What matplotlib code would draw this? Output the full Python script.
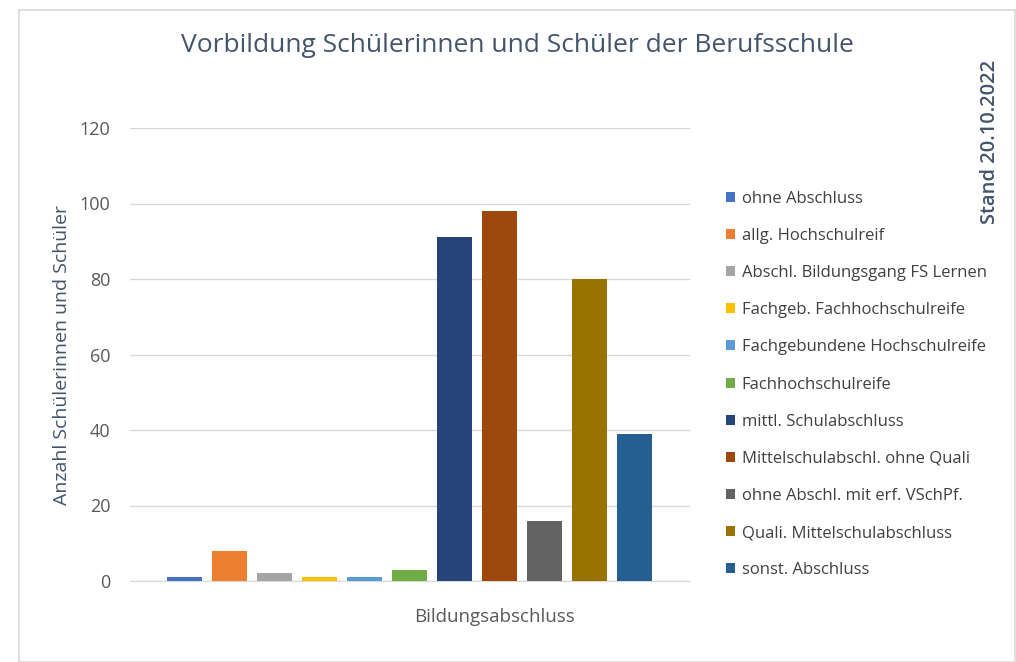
import matplotlib
matplotlib.use("Agg")
import matplotlib.pyplot as plt
from matplotlib.patches import Rectangle

plt.rcParams['font.family'] = ['Open Sans', 'DejaVu Sans']

# Daten
kategorien = ['ohne Abschluss', 'allg. Hochschulreif', 'Abschl. Bildungsgang FS Lernen',
              'Fachgeb. Fachhochschulreife', 'Fachgebundene Hochschulreife', 'Fachhochschulreife',
              'mittl. Schulabschluss', 'Mittelschulabschl. ohne Quali', 'ohne Abschl. mit erf. VSchPf.',
              'Quali. Mittelschulabschluss', 'sonst. Abschluss']
werte = [1, 8, 2, 1, 1, 3, 91, 98, 16, 80, 39]
farben = ['#4472C4', '#ED7D31', '#A5A5A5', '#FFC000', '#5B9BD5', '#70AD47',
          '#264478', '#9E480E', '#636363', '#997300', '#255E91']
y_ticks = [0, 20, 40, 60, 80, 100, 120]

fig = plt.figure(figsize=(10.16, 6.62), dpi=100)
W, H = 1016, 662
ax = fig.add_axes([130 / W, (H - 581) / H, 560 / W, 453 / H])

for i, (k, v, c) in enumerate(zip(kategorien, werte, farben)):
    ax.bar(i, v, width=0.78, color=c, label=k, zorder=3)

ax.set_xlim(-1.21, 11.23)
ax.set_ylim(0, 120)
ax.set_yticks(y_ticks)
ax.set_xticks([])
ax.grid(axis='y', color='#d9d9d9', linewidth=1, zorder=0)
for s in ['top', 'right', 'left']:
    ax.spines[s].set_visible(False)
ax.spines['bottom'].set_color('#d9d9d9')
ax.tick_params(axis='y', length=0, pad=14, labelsize=13, labelcolor='#595959')

fig.text(495 / W, 1 - 617 / H, 'Bildungsabschluss', ha='center', va='center',
         fontsize=13.5, color='#595959')
fig.text(62 / W, 1 - 355 / H, 'Anzahl Schülerinnen und Schüler', rotation=90,
         ha='center', va='center', fontsize=14, color='#44546A')

fig.text(517 / W, 1 - 45 / H, 'Vorbildung Schülerinnen und Schüler der Berufsschule',
         ha='center', va='center', fontsize=19, color='#44546A')
fig.text(990 / W, 1 - 142 / H, 'Stand 20.10.2022', rotation=90,
         ha='center', va='center', fontsize=14.5, color='#44546A', fontweight='semibold')

leg = fig.legend(loc='upper left', bbox_to_anchor=(719 / W, 1 - 184 / H), frameon=False,
                 fontsize=12, labelcolor='#404040', handlelength=0.55, handleheight=0.55,
                 handletextpad=0.4, labelspacing=1.27, borderaxespad=0)

fig.patches.append(Rectangle((19 / W, 0.0), 996 / W, 1 - 10 / H, transform=fig.transFigure,
                             fill=False, edgecolor='#d9d9d9', linewidth=1.2))

fig.savefig('out.png', dpi=100)
